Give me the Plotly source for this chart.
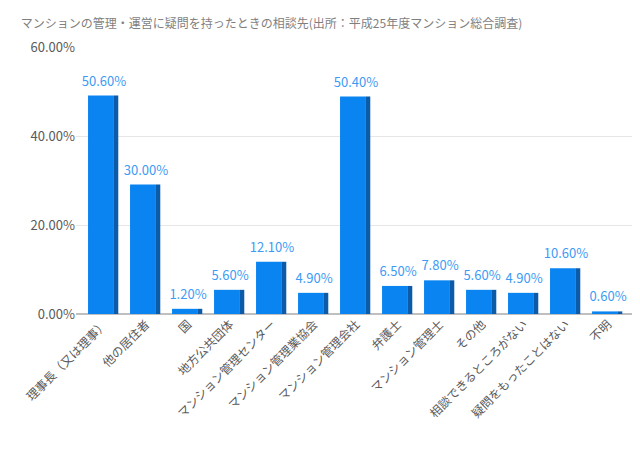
import plotly.graph_objects as go

categories = ["理事長（又は理事）", "他の居住者", "国", "地方公共団体", "マンション管理センター",
              "マンション管理業協会", "マンション管理会社", "弁護士", "マンション管理士", "その他",
              "相談できるところがない", "疑問をもったことはない", "不明"]
values = [50.6, 30.0, 1.2, 5.6, 12.1, 4.9, 50.4, 6.5, 7.8, 5.6, 4.9, 10.6, 0.6]
heights = [v * 0.97 for v in values]  # the 3D bars sit a little below their label values

font = "Noto Sans CJK JP"

fig = go.Figure()
# darker side face for a bit of depth
fig.add_trace(go.Bar(x=categories, y=heights, width=0.12, offset=0.22,
                     marker=dict(color="#0B5BA8", line=dict(width=0)),
                     hoverinfo="skip", showlegend=False))
fig.add_trace(go.Bar(x=categories, y=heights, width=0.6, offset=-0.38,
                     marker=dict(color="#0A84F0", line=dict(width=0)),
                     showlegend=False))
fig.add_trace(go.Scatter(x=categories, y=[h + 1.5 for h in heights], mode="text",
                         text=[f"{v:.2f}%" for v in values], textposition="top center",
                         textfont=dict(color="#3D9BF5", size=13, family=font),
                         cliponaxis=False, showlegend=False, hoverinfo="skip"))

fig.update_layout(
    width=640, height=459, barmode="overlay",
    margin=dict(l=68, r=12, t=39, b=153),
    paper_bgcolor="white", plot_bgcolor="white",
    font=dict(family=font, color="#595959"),
    title=dict(text="マンションの管理・運営に疑問を持ったときの相談先(出所：平成25年度マンション総合調査)",
               x=0.02, y=0.975, xanchor="left", font=dict(size=12, color="#7f7f7f")),
    yaxis=dict(range=[0, 60], tickvals=[0, 20, 40, 60],
               ticktext=["0.00%", "20.00%", "40.00%", "60.00%"],
               tickfont=dict(size=13, color="#595959"), showgrid=True,
               gridcolor="#E6E6E6", zeroline=True, zerolinecolor="#BFBFBF", ticks="", ticklen=8),
    xaxis=dict(tickangle=-45, tickfont=dict(size=12, color="#595959"), showline=False),
)
fig.write_html("out.html")
